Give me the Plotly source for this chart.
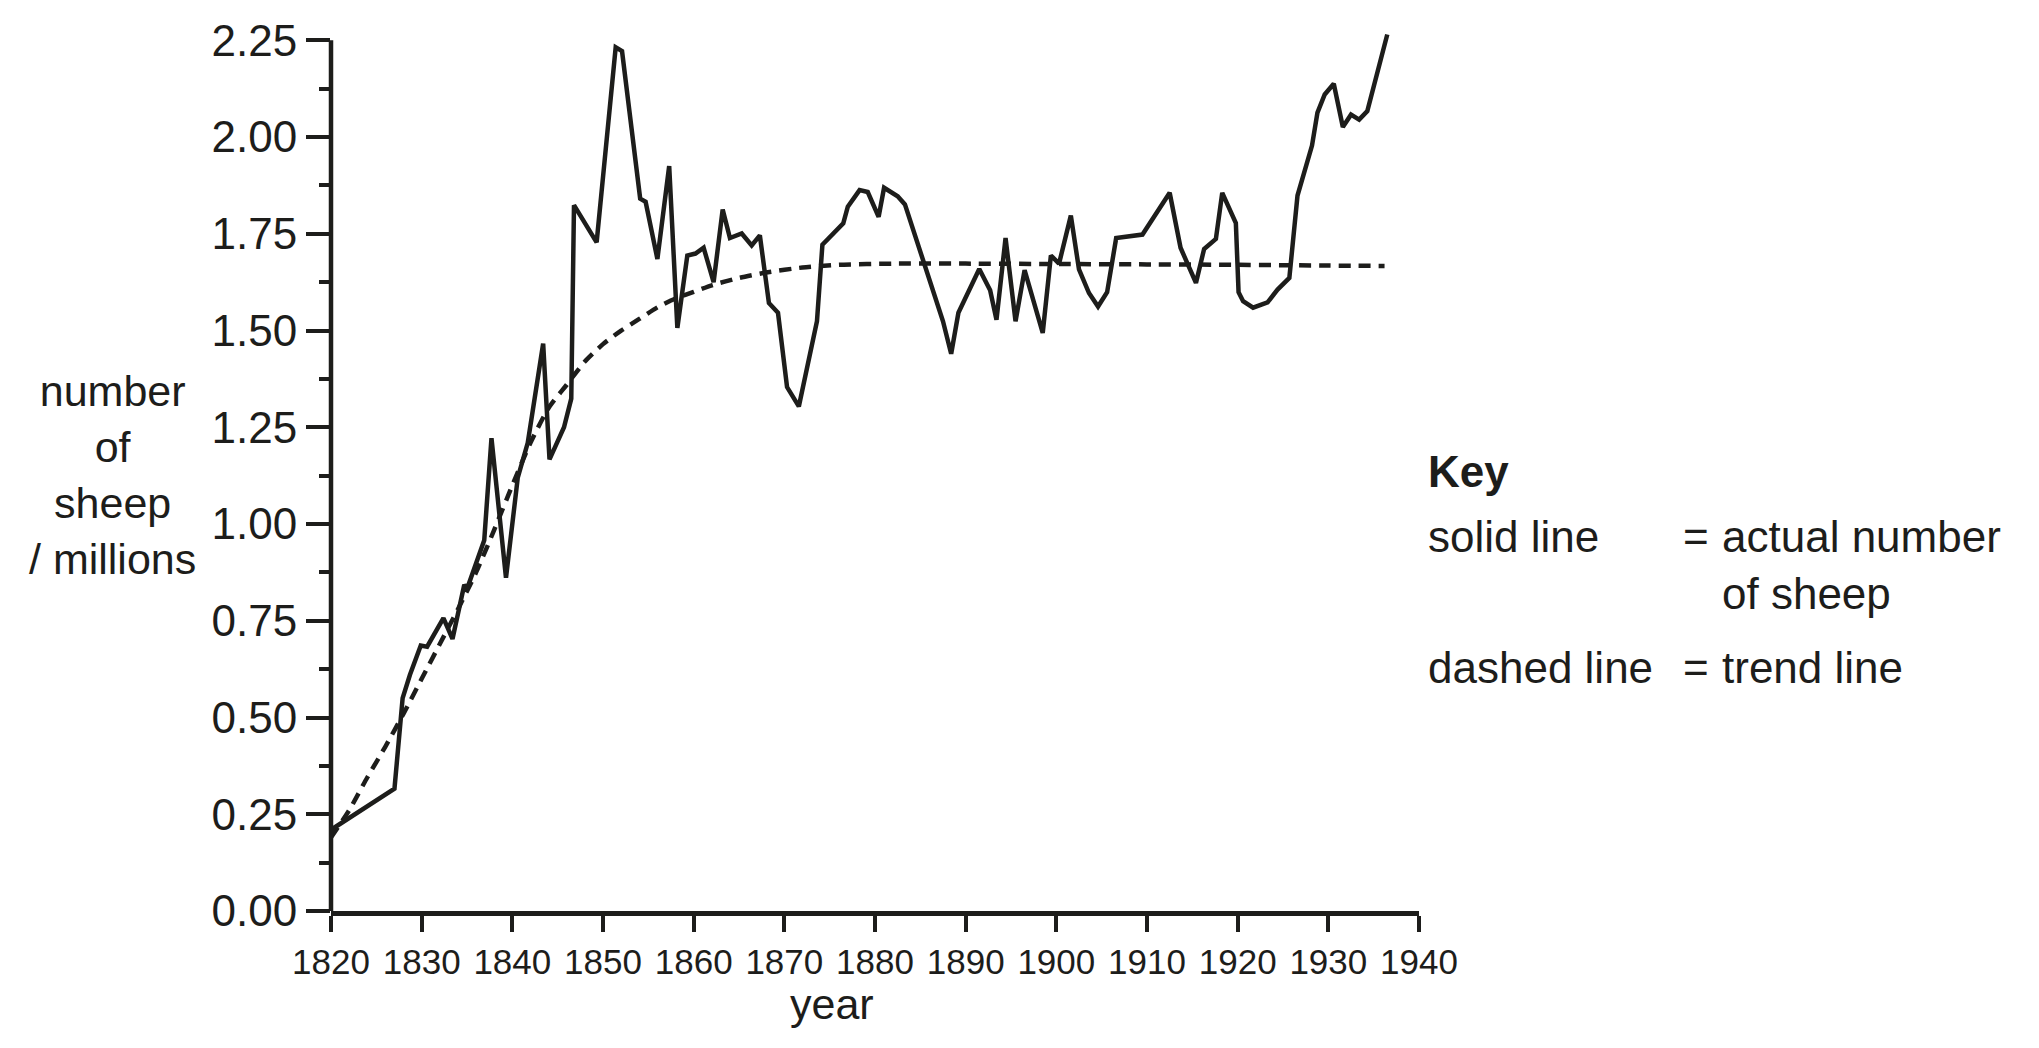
import plotly.graph_objects as go

# ---- data ----
actual_years = [1820.0, 1827.0, 1827.9, 1828.7, 1829.9, 1830.6, 1832.4, 1833.4, 1834.7, 1835.0,
                1836.9, 1837.7, 1839.3, 1840.6, 1841.7, 1843.4, 1844.1, 1845.7, 1846.5, 1846.8,
                1849.3, 1851.4, 1852.1, 1854.1, 1854.7, 1856.0, 1857.3, 1858.2, 1859.3, 1860.2,
                1861.1, 1862.2, 1863.2, 1864.0, 1865.3, 1866.4, 1867.3, 1868.3, 1869.3, 1870.3,
                1871.6, 1873.6, 1874.2, 1876.5, 1877.0, 1878.3, 1879.2, 1880.4, 1881.0, 1882.5,
                1883.3, 1887.5, 1888.4, 1889.2, 1891.5, 1892.7, 1893.4, 1894.4, 1895.5, 1896.5,
                1898.5, 1899.4, 1900.3, 1901.6, 1902.5, 1903.6, 1904.6, 1905.6, 1906.6, 1909.5,
                1912.5, 1913.7, 1915.4, 1916.3, 1917.6, 1917.8, 1918.3, 1919.8, 1920.1, 1920.6,
                1921.7, 1923.3, 1924.4, 1925.7, 1926.6, 1928.2, 1928.8, 1929.6, 1930.6, 1931.6,
                1932.5, 1933.4, 1934.3, 1936.5]
actual_sheep = [0.21, 0.316, 0.55, 0.61, 0.686, 0.683, 0.757, 0.703, 0.843, 0.832,
                0.958, 1.222, 0.861, 1.12, 1.21, 1.466, 1.167, 1.25, 1.324, 1.824,
                1.728, 2.232, 2.222, 1.841, 1.833, 1.685, 1.925, 1.507, 1.694, 1.699,
                1.714, 1.625, 1.813, 1.739, 1.751, 1.720, 1.746, 1.571, 1.546, 1.354,
                1.304, 1.524, 1.722, 1.777, 1.820, 1.863, 1.858, 1.794, 1.869, 1.847,
                1.826, 1.524, 1.440, 1.546, 1.659, 1.604, 1.528, 1.739, 1.524, 1.656,
                1.494, 1.694, 1.673, 1.797, 1.658, 1.597, 1.562, 1.599, 1.739, 1.748,
                1.856, 1.714, 1.623, 1.711, 1.737, 1.778, 1.856, 1.778, 1.599, 1.576,
                1.559, 1.573, 1.606, 1.636, 1.849, 1.978, 2.063, 2.110, 2.138, 2.026,
                2.058, 2.045, 2.067, 2.265]

trend_years = [1820, 1822, 1824, 1826, 1828, 1830, 1832, 1834, 1836, 1838, 1840, 1842, 1844,
               1846, 1848, 1850, 1852, 1854, 1856, 1858, 1860, 1862, 1865, 1868, 1872, 1876,
               1882, 1890, 1900, 1910, 1920, 1930, 1936.2]
trend_sheep = [0.19, 0.26, 0.345, 0.425, 0.51, 0.60, 0.69, 0.78, 0.875, 0.985, 1.10, 1.21, 1.30,
               1.36, 1.42, 1.465, 1.50, 1.53, 1.56, 1.583, 1.60, 1.617, 1.636, 1.65, 1.663, 1.670,
               1.673, 1.673, 1.672, 1.671, 1.670, 1.668, 1.667]

x_ticks = list(range(1820, 1941, 10))
y_ticks = [0.0, 0.25, 0.5, 0.75, 1.0, 1.25, 1.5, 1.75, 2.0, 2.25]

INK = "#1d1d1b"
FONT = "Liberation Sans, Arial, sans-serif"

W, H = 2039, 1048
ML, MR, MT, MB = 331, 620, 21, 137
Y_TOP = 2.30


def xp(px):
    return (px - ML) / (W - ML - MR)


def yp(py):
    return (H - MB - py) / (H - MT - MB)


fig = go.Figure()
fig.add_trace(go.Scatter(x=trend_years, y=trend_sheep, mode="lines",
                         line=dict(color=INK, width=4.5, dash="12px,8px", shape="spline", smoothing=0.6),
                         showlegend=False, hoverinfo="skip"))
fig.add_trace(go.Scatter(x=actual_years, y=actual_sheep, mode="lines",
                         line=dict(color=INK, width=4.5), showlegend=False, hoverinfo="skip"))

fig.update_layout(
    width=W, height=H,
    margin=dict(l=ML, r=MR, t=MT, b=MB, pad=0),
    paper_bgcolor="white", plot_bgcolor="white",
    font=dict(family=FONT, color=INK),
    showlegend=False,
    xaxis=dict(range=[1820, 1940], tickvals=x_ticks, ticks="outside", ticklen=16, tickwidth=4,
               tickcolor=INK, showline=True, linewidth=4.5, linecolor=INK, showgrid=False,
               zeroline=False, tickfont=dict(size=35, family=FONT, color=INK)),
    yaxis=dict(range=[0, Y_TOP], tickvals=y_ticks, tickformat=".2f", ticks="outside", ticklen=24,
               tickwidth=4, tickcolor=INK, showline=False, showgrid=False, zeroline=False,
               tickfont=dict(size=44, family=FONT, color=INK),
               minor=dict(tickvals=[0.125 + 0.25 * i for i in range(9)], ticks="outside",
                          ticklen=11, tickwidth=4, tickcolor=INK, showgrid=False)),
)

# y axis line, stopping at the top tick (2.25)
fig.add_shape(type="line", xref="paper", yref="y", x0=0, x1=0, y0=0, y1=y_ticks[-1],
              line=dict(color=INK, width=4.5))


def text(px, py, s, size=44, anchor="left", bold=False):
    fig.add_annotation(x=xp(px), y=yp(py), xref="paper", yref="paper", showarrow=False,
                       text=("<b>%s</b>" % s) if bold else s, xanchor=anchor, yanchor="middle",
                       align="center", font=dict(size=size, family=FONT, color=INK))


text(112, 475, "number<br>of<br>sheep<br>/ millions", size=43, anchor="center")
text(832, 1004, "year", size=43, anchor="center")
text(1426, 471, "Key", bold=True)
text(1426, 536, "solid line")
text(1681, 536, "=")
text(1720, 536, "actual number")
text(1720, 593, "of sheep")
text(1426, 667, "dashed line")
text(1681, 667, "=")
text(1720, 667, "trend line")

fig.write_html("out.html")
